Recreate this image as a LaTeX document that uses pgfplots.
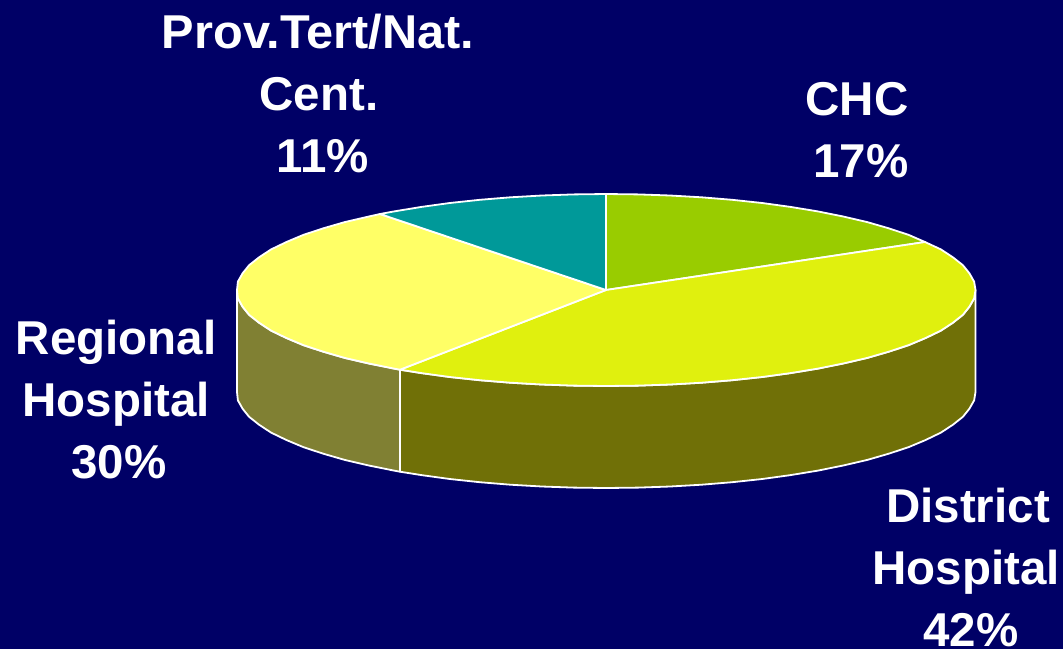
\documentclass[border=0pt]{standalone}
\usepackage{pgfplots}
\pgfplotsset{compat=1.18}
\usepackage{fontspec}
\setmainfont{Liberation Sans}
\definecolor{bg}{HTML}{000066}
\definecolor{chc}{HTML}{99CC00}
\definecolor{dist}{HTML}{E0F00E}
\definecolor{reg}{HTML}{FFFF66}
\definecolor{prov}{HTML}{009999}
\definecolor{distside}{HTML}{707007}
\definecolor{regside}{HTML}{808033}
\tikzset{lab/.style={overlay, anchor=base, text=white, font=\fontsize{47.5}{54}\selectfont\bfseries, inner sep=0pt}}
\begin{document}
\begin{tikzpicture}
\begin{axis}[
  scale only axis, width=1063pt, height=649pt,
  xmin=0, xmax=1063, ymin=0, ymax=649, y dir=reverse,
  hide axis, clip=false,
  every axis plot/.append style={draw=white, line width=1.8pt, line join=round},
]
% background
\addplot[fill=bg, draw=none] coordinates {(0,0) (1063,0) (1063,649) (0,649)} -- cycle;
% side of District Hospital
\addplot[fill=distside] coordinates {
(975.5,290)(974.1,298.4)(969.4,306.7)(962.9,314.8)(952.8,322.8)(940.9,330.6)(925.6,338)(908.7,345.1)(888.7,351.7)(867.3,357.9)(843.2,363.5)(817.9,368.6)(790.5,373.1)(762.2,377)(732.2,380.2)(701.6,382.7)(670.1,384.5)(638.2,385.6)(606,386)(573.8,385.6)(541.9,384.5)(510.4,382.7)(479.8,380.2)(449.8,377)(421.5,373.1)(400,369.7)
(400,471.7)(421.5,475.1)(449.8,479)(479.8,482.2)(510.4,484.7)(541.9,486.5)(573.8,487.6)(606,488)(638.2,487.6)(670.1,486.5)(701.6,484.7)(732.2,482.2)(762.2,479)(790.5,475.1)(817.9,470.6)(843.2,465.5)(867.3,459.9)(888.7,453.7)(908.7,447.1)(925.6,440)(940.9,432.6)(952.8,424.8)(962.9,416.8)(969.4,408.7)(974.1,400.4)(975.5,392)
} -- cycle;
% side of Regional Hospital
\addplot[fill=regside] coordinates {
(400,369.7)(394.1,368.6)(368.8,363.5)(344.7,357.9)(323.3,351.7)(303.3,345.1)(286.4,338)(271.1,330.6)(259.2,322.8)(249.1,314.8)(242.6,306.7)(237.9,298.4)(237,290)
(237,392)(237.9,400.4)(242.6,408.7)(249.1,416.8)(259.2,424.8)(271.1,432.6)(286.4,440)(303.3,447.1)(323.3,453.7)(344.7,459.9)(368.8,465.5)(394.1,470.6)(400,471.7)
} -- cycle;
% CHC
\addplot[fill=chc] coordinates {
(606,290)(606,194)(638.2,194.4)(670.1,195.5)(701.6,197.3)(732.2,199.8)(762.2,203)(790.5,206.9)(817.9,211.4)(843.2,216.5)(867.3,222.1)(888.7,228.3)(908.7,234.9)(925,242)
} -- cycle;
% District Hospital
\addplot[fill=dist] coordinates {
(606,290)(925,242)(940.9,249.4)(952.8,257.2)(962.9,265.2)(969.4,273.3)(974.1,281.6)(975.5,290)(974.1,298.4)(969.4,306.7)(962.9,314.8)(952.8,322.8)(940.9,330.6)(925.6,338)(908.7,345.1)(888.7,351.7)(867.3,357.9)(843.2,363.5)(817.9,368.6)(790.5,373.1)(762.2,377)(732.2,380.2)(701.6,382.7)(670.1,384.5)(638.2,385.6)(606,386)(573.8,385.6)(541.9,384.5)(510.4,382.7)(479.8,380.2)(449.8,377)(421.5,373.1)(400,369.7)
} -- cycle;
% Regional Hospital
\addplot[fill=reg] coordinates {
(606,290)(400,369.7)(394.1,368.6)(368.8,363.5)(344.7,357.9)(323.3,351.7)(303.3,345.1)(286.4,338)(271.1,330.6)(259.2,322.8)(249.1,314.8)(242.6,306.7)(237.9,298.4)(237,290)(237.9,281.6)(242.6,273.3)(249.1,265.2)(259.2,257.2)(271.1,249.4)(286.4,242)(303.3,234.9)(323.3,228.3)(344.7,222.1)(368.8,216.5)(380,214)
} -- cycle;
% Prov.Tert/Nat. Cent.
\addplot[fill=prov] coordinates {
(606,290)(380,214)(394.1,211.4)(421.5,206.9)(449.8,203)(479.8,199.8)(510.4,197.3)(541.9,195.5)(573.8,194.4)(606,194)
} -- cycle;
\node[lab, xscale=1.025] at (axis cs:318,48) {Prov.Tert/Nat.};
\node[lab] at (axis cs:319,110) {Cent.};
\node[lab] at (axis cs:323,172) {11\%};
\node[lab] at (axis cs:857,115) {CHC};
\node[lab] at (axis cs:861,177) {17\%};
\node[lab] at (axis cs:116,354) {Regional};
\node[lab] at (axis cs:116,416) {Hospital};
\node[lab] at (axis cs:119,478) {30\%};
\node[lab] at (axis cs:968,522) {District};
\node[lab] at (axis cs:966,584) {Hospital};
\node[lab] at (axis cs:971,646) {42\%};
\end{axis}
\end{tikzpicture}
\end{document}
